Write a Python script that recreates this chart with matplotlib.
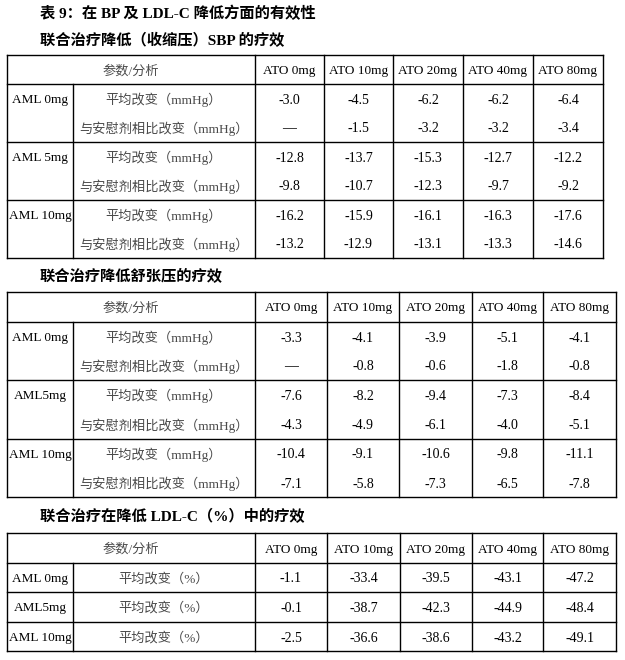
import matplotlib
matplotlib.use("Agg")
import matplotlib.pyplot as plt

plt.rcParams['font.family'] = ['Liberation Serif', 'Noto Sans CJK SC', 'DejaVu Sans']

title = "表 9：在 BP 及 LDL-C 降低方面的有效性"
subtitles = ["联合治疗降低（收缩压）SBP 的疗效",
             "联合治疗降低舒张压的疗效",
             "联合治疗在降低 LDL-C（%）中的疗效"]
headerLabel = "参数/分析"
atoCols = ["ATO 0mg", "ATO 10mg", "ATO 20mg", "ATO 40mg", "ATO 80mg"]
amlGroups1 = ["AML 0mg", "AML 5mg", "AML 10mg"]
amlGroups2 = ["AML 0mg", "AML5mg", "AML 10mg"]
amlGroups3 = ["AML 0mg", "AML5mg", "AML 10mg"]
bpParams = ["平均改变（mmHg）", "与安慰剂相比改变（mmHg）"]
ldlParams = ["平均改变（%）"]

# systolic: rows = (group, param)
sbpValues = [
	["-3.0", "-4.5", "-6.2", "-6.2", "-6.4"],
	["—", "-1.5", "-3.2", "-3.2", "-3.4"],
	["-12.8", "-13.7", "-15.3", "-12.7", "-12.2"],
	["-9.8", "-10.7", "-12.3", "-9.7", "-9.2"],
	["-16.2", "-15.9", "-16.1", "-16.3", "-17.6"],
	["-13.2", "-12.9", "-13.1", "-13.3", "-14.6"],
]
dbpValues = [
	["-3.3", "-4.1", "-3.9", "-5.1", "-4.1"],
	["—", "-0.8", "-0.6", "-1.8", "-0.8"],
	["-7.6", "-8.2", "-9.4", "-7.3", "-8.4"],
	["-4.3", "-4.9", "-6.1", "-4.0", "-5.1"],
	["-10.4", "-9.1", "-10.6", "-9.8", "-11.1"],
	["-7.1", "-5.8", "-7.3", "-6.5", "-7.8"],
]
ldlValues = [
	["-1.1", "-33.4", "-39.5", "-43.1", "-47.2"],
	["-0.1", "-38.7", "-42.3", "-44.9", "-48.4"],
	["-2.5", "-36.6", "-38.6", "-43.2", "-49.1"],
]

GRAY = "#4a4a4a"
FS = 9.5
LW = 1.0
DY = 1.5  # nudge text down a little, like the scan


def drawTable(ax, xs, top, headerBottom, groupBottoms, groups, params, values):
	left, right = xs[0], xs[-1]
	# outer box + header
	ax.plot([left, right], [top, top], color="black", lw=LW)
	ax.plot([left, right], [headerBottom, headerBottom], color="black", lw=LW)
	for gb in groupBottoms:
		ax.plot([left, right], [gb, gb], color="black", lw=LW)
	bottom = groupBottoms[-1]
	ax.plot([left, left], [top, bottom], color="black", lw=LW)
	for x in xs[2:]:
		ax.plot([x, x], [top, bottom], color="black", lw=LW)
	ax.plot([xs[1], xs[1]], [headerBottom, bottom], color="black", lw=LW)
	hy = (top + headerBottom) / 2 + DY
	ax.text((xs[0] + xs[2]) / 2, hy, headerLabel, ha="center", va="center", fontsize=FS, color=GRAY)
	for i, c in enumerate(atoCols):
		ax.text((xs[i + 2] + xs[i + 3]) / 2, hy, c, ha="center", va="center", fontsize=FS)
	prev = headerBottom
	nP = len(params)
	r = 0
	for g, gb in enumerate(groupBottoms):
		rh = (gb - prev) / nP
		for p in range(nP):
			y = prev + rh * (p + 0.5) + DY
			if p == 0:
				ax.text((xs[0] + xs[1]) / 2, y, groups[g], ha="center", va="center", fontsize=FS)
			ax.text((xs[1] + xs[2]) / 2, y, params[p], ha="center", va="center", fontsize=FS, color=GRAY)
			for i, v in enumerate(values[r]):
				ax.text((xs[i + 2] + xs[i + 3]) / 2, y, v, ha="center", va="center", fontsize=FS + 0.5)
			r += 1
		prev = gb


def main():
	fig = plt.figure(figsize=(6.25, 6.6), dpi=100)
	ax = fig.add_axes([0, 0, 1, 1])
	ax.set_xlim(0, 625)
	ax.set_ylim(660, 0)
	ax.axis("off")

	ax.text(40, 13, title, ha="left", va="center", fontsize=11, fontweight="bold")
	ax.text(40, 41, subtitles[0], ha="left", va="center", fontsize=11, fontweight="bold")
	drawTable(ax, [7, 73, 255, 324, 393, 463, 533, 603], 55, 84, [142, 200, 258],
			amlGroups1, bpParams, sbpValues)

	ax.text(40, 276, subtitles[1], ha="left", va="center", fontsize=11, fontweight="bold")
	drawTable(ax, [7, 73, 255, 327, 399, 472, 543, 616], 292, 322, [380, 439, 497],
			amlGroups2, bpParams, dbpValues)

	ax.text(40, 517, subtitles[2], ha="left", va="center", fontsize=11, fontweight="bold")
	drawTable(ax, [7, 73, 255, 327, 400, 472, 543, 616], 533, 563, [592, 622, 651],
			amlGroups3, ldlParams, ldlValues)

	fig.savefig("out.png", dpi=100)


if __name__ == '__main__':
	main()
